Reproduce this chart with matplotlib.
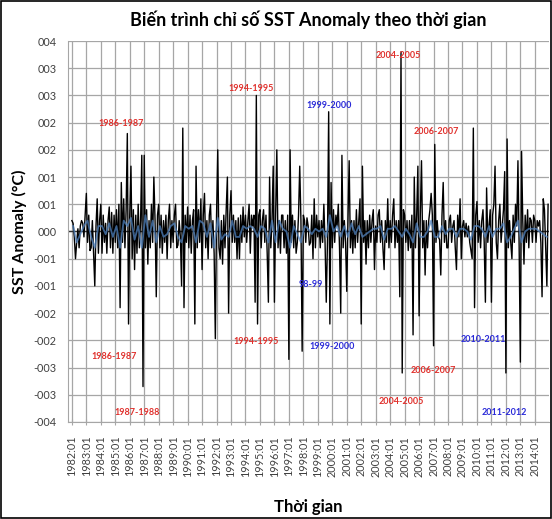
import numpy as np
import matplotlib
matplotlib.use("Agg")
import matplotlib.pyplot as plt
from matplotlib.patches import Rectangle

plt.rcParams['font.family'] = ['Lato', 'Noto Sans', 'DejaVu Sans']

# monthly SST anomaly, 1982:01 .. 2014:12 (one row per year)
sst_rows = [
    [0.2, 0.15, -0.1, -0.5, -0.2, 0.05, -0.3, 0.1, 0.2, 0.15, -0.1, 0.3],      # 1982
    [0.7, -0.2, 0.3, -0.35, -0.3, 0.2, -0.4, -1.0, 0.1, 0.6, -0.4, 0.2],       # 1983
    [0.5, -0.4, 0.3, -0.2, 0.15, -0.4, 0.2, 0.45, -0.3, 0.35, -0.4, 0.3],      # 1984
    [-0.2, 0.4, -0.3, 0.5, -1.4, 0.9, -0.2, 0.6, -0.3, 0.4, 1.8, -1.7],        # 1985
    [0.3, 1.2, -0.5, 0.4, -0.7, 0.3, -0.4, 0.5, -0.3, 0.2, 1.4, -2.85],        # 1986
    [1.4, -0.3, 0.4, -0.6, 0.2, -0.3, 0.5, -0.2, 1.0, 0.2, -1.2, 0.3],         # 1987
    [0.5, -0.3, 0.3, -0.4, 0.2, -0.2, 0.3, -0.5, 0.2, 0.5, -0.3, 0.2],         # 1988
    [-0.2, 0.3, 0.5, -0.3, -0.25, 0.2, -0.1, -1.0, 1.9, -1.4, 0.3, -0.2],      # 1989
    [0.45, -0.3, 0.3, -0.4, 0.2, 0.4, -1.7, 1.2, -0.3, 0.4, -0.2, 0.6],        # 1990
    [-0.7, 0.3, 0.7, -0.3, 0.2, -0.5, 0.3, 0.5, -0.3, 0.2, -0.4, -1.97],       # 1991
    [0.3, 1.5, -0.3, -0.5, 0.2, -0.6, 0.3, -0.3, 0.4, 1.0, -1.5, 0.3],         # 1992
    [0.75, -0.2, 0.3, -0.2, 0.2, -0.5, 0.25, -0.5, 0.3, -0.2, 0.45, -0.1],     # 1993
    [0.3, -0.2, 0.2, 0.5, -0.4, 0.3, 0.1, 0.3, -1.3, 2.5, -1.7, 0.3],          # 1994
    [0.4, -0.3, 0.2, 0.4, -0.2, 0.3, -0.4, -1.3, 1.0, -0.3, 0.2, 1.2],         # 1995
    [-1.3, 0.3, 1.5, -0.3, 0.2, -0.4, 0.3, 0.3, -0.3, 0.2, -0.4, 0.3],         # 1996
    [-2.35, 1.5, -0.2, 0.3, -0.3, 0.2, -0.4, -0.2, 0.3, 1.2, 0.2, -2.2],       # 1997
    [0.3, 0.2, -0.2, 0.25, 0.1, -0.25, -0.2, 0.3, -0.5, 0.6, -0.3, 0.3],       # 1998
    [-0.1, 0.2, -0.3, 0.2, -0.2, 0.5, -0.2, -1.3, -0.2, 2.2, -1.7, 0.9],       # 1999
    [-0.3, 0.4, -0.2, 0.3, 0.1, 0.5, -0.3, -1.5, 1.4, -0.3, 0.2, -0.2],        # 2000
    [-1.1, 0.2, 1.3, -0.3, 0.2, -0.4, 0.2, -0.3, 0.4, -0.2, 0.2, 0.6],         # 2001
    [-1.7, 1.2, -0.2, 0.2, -0.6, 0.2, -0.3, 0.3, -0.2, 0.2, 0.4, -0.7],        # 2002
    [0.1, -0.2, 0.3, 0.4, -0.2, 0.2, -0.3, -0.7, 0.2, -0.2, 0.6, -0.3],        # 2003
    [0.2, -0.2, 0.3, 0.6, -0.3, 0.2, -0.2, 0.2, -1.2, 3.3, -2.6, 0.4],         # 2004
    [0.3, -0.2, 0.2, -0.35, 0.2, -0.3, 0.3, -1.9, 1.0, -0.3, 0.3, 1.2],        # 2005
    [-1.55, 0.3, 1.3, -0.3, 0.2, -0.8, 0.2, -0.3, 0.2, 0.4, 0.7, 0.3],         # 2006
    [-2.1, 1.6, -0.2, 0.2, -0.1, -0.15, -0.8, 0.3, 0.9, -0.2, 0.2, -0.3],      # 2007
    [-0.3, 0.2, 0.3, -0.2, 0.1, 0.2, -0.3, -0.7, 0.3, -0.1, 0.6, -0.5],        # 2008
    [0.1, 0.2, -0.1, 0.15, -0.1, 0.1, -0.2, -0.35, -0.5, 1.9, -1.4, 0.3],      # 2009
    [0.55, -0.2, 0.2, -0.3, 0.2, 0.4, -0.2, -1.3, 0.8, -0.2, 0.1, 0.4],        # 2010
    [-1.3, 0.3, 0.5, 1.2, -0.2, -0.5, 0.2, 0.5, -0.2, 0.1, 0.4, 1.1],          # 2011
    [-2.6, 1.7, -0.3, 0.2, -0.2, -0.5, 0.3, -0.2, 0.5, 0.1, 1.3, -0.3],        # 2012
    [-2.4, 1.47, 0.2, -0.6, 0.3, -0.2, 0.4, -0.3, 0.25, 0.2, -0.2, 0.3],       # 2013
    [0.2, -0.2, 0.2, 0.1, 0.2, -0.2, -1.2, 0.6, 0.4, -0.3, -1.0, 0.5],         # 2014
]

# second (smoother) series, one value per quarter
blue_rows = [
    [0.1, -0.2, -0.05, 0.1], [0.2, -0.1, -0.3, 0.1], [0.1, -0.05, 0.15, -0.1],
    [0.1, -0.3, 0.2, 0.1], [0.25, -0.15, 0.1, -0.3], [0.3, -0.1, 0.2, -0.2],
    [0.1, -0.1, -0.05, 0.1], [0.15, -0.1, -0.2, 0.1], [0.05, 0.1, -0.2, 0.2],
    [0.15, -0.1, 0.15, -0.3], [0.25, -0.15, -0.05, -0.1], [0.2, -0.1, -0.1, 0.1],
    [0.05, 0.1, 0.05, -0.1], [0.1, 0.05, -0.2, 0.2], [-0.2, 0.2, 0.05, 0.0],
    [-0.3, 0.1, -0.05, -0.2], [0.1, 0.05, -0.05, 0.05], [0.0, 0.05, -0.1, 0.3],
    [0.0, 0.1, -0.1, 0.1], [-0.1, 0.15, -0.05, 0.1], [-0.1, -0.05, 0.0, 0.05],
    [0.05, 0.1, -0.15, 0.05], [0.05, 0.1, 0.0, -0.1], [0.05, -0.05, -0.2, 0.15],
    [-0.1, -0.1, 0.0, 0.2], [-0.1, -0.1, 0.1, -0.05], [0.05, 0.05, -0.1, 0.05],
    [0.05, 0.0, -0.15, 0.1], [0.1, 0.05, -0.1, 0.1], [-0.1, 0.05, 0.05, 0.15],
    [-0.2, -0.1, 0.05, 0.2], [-0.2, 0.0, 0.05, 0.05], [0.05, 0.0, -0.05, -0.1],
]

years = list(range(1982, 2015))
xtick_labels = [f"{y}:01" for y in years]
ytick_vals = [3.5, 3.0, 2.5, 2.0, 1.5, 1.0, 0.5, 0.0, -0.5, -1.0, -1.5, -2.0, -2.5, -3.0, -3.5]
ytick_labels = ["004", "003", "003", "002", "002", "001", "001", "000",
                "-001", "-001", "-002", "-002", "-003", "-003", "-004"]

# event labels: (text, month index, value, colour)
RED = "#e0302c"
BLU = "#2a2ad8"
events = [
    ("1986-1987", 40.5, 1.98, RED), ("1986-1987", 34.7, -2.29, RED),
    ("1987-1988", 53.7, -3.32, RED), ("1994-1995", 148.6, 2.62, RED),
    ("1994-1995", 152.8, -2.03, RED), ("1999-2000", 213, 2.31, BLU),
    ("98-99", 198, -0.97, BLU), ("1999-2000", 216, -2.12, BLU),
    ("2004-2005", 271, 3.23, RED), ("2006-2007", 302, 1.83, RED),
    ("2006-2007", 300, -2.56, RED), ("2004-2005", 273, -3.12, RED),
    ("2010-2011", 341, -1.98, BLU), ("2011-2012", 359, -3.32, BLU),
]

sst = np.array(sst_rows).ravel()
blue = np.array(blue_rows).ravel()
months = np.arange(len(sst))
quarters = np.arange(len(blue)) * 3 + 1

fig = plt.figure(figsize=(5.52, 5.19), dpi=100)
ax = fig.add_axes([0.123, 0.187, 0.871, 0.734])

ax.axhline(0, color="#303030", lw=1.0, zorder=2.5)
ax.plot(months, sst, color="black", lw=1.0, zorder=3)
ax.plot(quarters, blue, color="#4f81bd", lw=1.3, alpha=0.75, zorder=4)

ax.set_xlim(-3.3, 395.5)
ax.set_ylim(-3.5, 3.5)
ax.set_xticks(np.arange(len(years)) * 12)
ax.set_xticklabels(xtick_labels, rotation=90, fontsize=7.8, color="#404040")
ax.set_yticks(ytick_vals)
ax.set_yticklabels(ytick_labels, fontsize=7.8, color="#404040")
ax.grid(True, color="#a6a6a6", lw=0.9)
ax.set_axisbelow(True)
ax.tick_params(axis="x", direction="inout", length=4, color="#a6a6a6", pad=8)
ax.tick_params(axis="y", length=0, pad=8)
for side in ["top", "right"]:
    ax.spines[side].set_visible(False)
for side in ["left", "bottom"]:
    ax.spines[side].set_color("#a6a6a6")

for txt, mx, yv, col in events:
    ax.text(mx, yv, txt, color=col, fontsize=6.5, fontweight="bold",
            ha="center", va="center", zorder=5)

ax.set_title("Biến trình chỉ số SST Anomaly theo thời gian", fontsize=13,
             fontweight="bold", pad=11)
ax.set_ylabel("SST Anomaly (°C)", fontsize=11.5, fontweight="bold", labelpad=5)
ax.set_xlabel("Thời gian", fontsize=12, fontweight="bold", labelpad=16)

fig.patches.append(Rectangle((0.001, 0.001), 0.997, 0.997, transform=fig.transFigure,
                             fill=False, edgecolor="black", lw=1.2))

fig.savefig("out.png", dpi=100)
